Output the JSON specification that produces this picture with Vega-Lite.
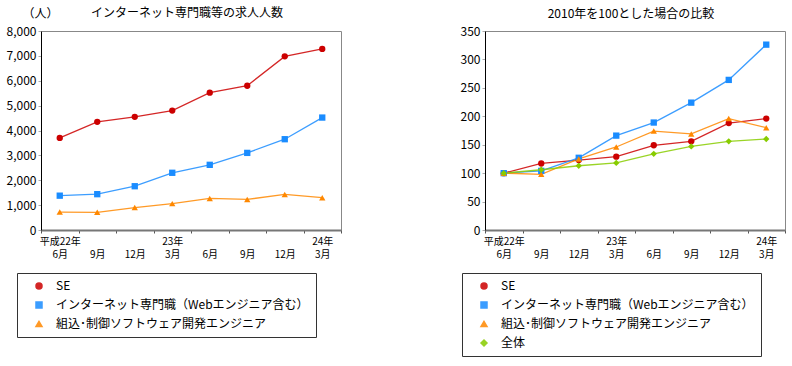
{
  "$schema": "https://vega.github.io/schema/vega-lite/v6.json",
  "padding": {"left": 5, "top": 6, "right": 3, "bottom": 2},
  "config": {
    "font": "Noto Sans CJK JP",
    "view": {"stroke": "#888888", "strokeWidth": 1},
    "axis": {"grid": false, "labelColor": "#000000"},
    "title": {"fontWeight": "normal", "fontSize": 12, "color": "#000000"}
  },
  "datasets": {
    "counts": [
      {"t": "2010-06", "s": "SE", "v": 3700},
      {"t": "2010-09", "s": "SE", "v": 4350},
      {"t": "2010-12", "s": "SE", "v": 4550},
      {"t": "2011-03", "s": "SE", "v": 4800},
      {"t": "2011-06", "s": "SE", "v": 5520},
      {"t": "2011-09", "s": "SE", "v": 5800},
      {"t": "2011-12", "s": "SE", "v": 6980},
      {"t": "2012-03", "s": "SE", "v": 7280},
      {"t": "2010-06", "s": "インターネット専門職（Webエンジニア含む）", "v": 1380},
      {"t": "2010-09", "s": "インターネット専門職（Webエンジニア含む）", "v": 1440},
      {"t": "2010-12", "s": "インターネット専門職（Webエンジニア含む）", "v": 1760},
      {"t": "2011-03", "s": "インターネット専門職（Webエンジニア含む）", "v": 2300},
      {"t": "2011-06", "s": "インターネット専門職（Webエンジニア含む）", "v": 2620},
      {"t": "2011-09", "s": "インターネット専門職（Webエンジニア含む）", "v": 3100},
      {"t": "2011-12", "s": "インターネット専門職（Webエンジニア含む）", "v": 3650},
      {"t": "2012-03", "s": "インターネット専門職（Webエンジニア含む）", "v": 4520},
      {"t": "2010-06", "s": "組込･制御ソフトウェア開発エンジニア", "v": 720},
      {"t": "2010-09", "s": "組込･制御ソフトウェア開発エンジニア", "v": 710},
      {"t": "2010-12", "s": "組込･制御ソフトウェア開発エンジニア", "v": 900},
      {"t": "2011-03", "s": "組込･制御ソフトウェア開発エンジニア", "v": 1060},
      {"t": "2011-06", "s": "組込･制御ソフトウェア開発エンジニア", "v": 1270},
      {"t": "2011-09", "s": "組込･制御ソフトウェア開発エンジニア", "v": 1230},
      {"t": "2011-12", "s": "組込･制御ソフトウェア開発エンジニア", "v": 1430},
      {"t": "2012-03", "s": "組込･制御ソフトウェア開発エンジニア", "v": 1300}
    ],
    "ratio": [
      {"t": "2010-06", "s": "SE", "v": 100},
      {"t": "2010-09", "s": "SE", "v": 117},
      {"t": "2010-12", "s": "SE", "v": 123},
      {"t": "2011-03", "s": "SE", "v": 129},
      {"t": "2011-06", "s": "SE", "v": 149},
      {"t": "2011-09", "s": "SE", "v": 156},
      {"t": "2011-12", "s": "SE", "v": 188},
      {"t": "2012-03", "s": "SE", "v": 196},
      {"t": "2010-06", "s": "インターネット専門職（Webエンジニア含む）", "v": 100},
      {"t": "2010-09", "s": "インターネット専門職（Webエンジニア含む）", "v": 104},
      {"t": "2010-12", "s": "インターネット専門職（Webエンジニア含む）", "v": 127},
      {"t": "2011-03", "s": "インターネット専門職（Webエンジニア含む）", "v": 166},
      {"t": "2011-06", "s": "インターネット専門職（Webエンジニア含む）", "v": 189},
      {"t": "2011-09", "s": "インターネット専門職（Webエンジニア含む）", "v": 224},
      {"t": "2011-12", "s": "インターネット専門職（Webエンジニア含む）", "v": 264},
      {"t": "2012-03", "s": "インターネット専門職（Webエンジニア含む）", "v": 326},
      {"t": "2010-06", "s": "組込･制御ソフトウェア開発エンジニア", "v": 100},
      {"t": "2010-09", "s": "組込･制御ソフトウェア開発エンジニア", "v": 98},
      {"t": "2010-12", "s": "組込･制御ソフトウェア開発エンジニア", "v": 125},
      {"t": "2011-03", "s": "組込･制御ソフトウェア開発エンジニア", "v": 146},
      {"t": "2011-06", "s": "組込･制御ソフトウェア開発エンジニア", "v": 174},
      {"t": "2011-09", "s": "組込･制御ソフトウェア開発エンジニア", "v": 169},
      {"t": "2011-12", "s": "組込･制御ソフトウェア開発エンジニア", "v": 196},
      {"t": "2012-03", "s": "組込･制御ソフトウェア開発エンジニア", "v": 180},
      {"t": "2010-06", "s": "全体", "v": 100},
      {"t": "2010-09", "s": "全体", "v": 106},
      {"t": "2010-12", "s": "全体", "v": 113},
      {"t": "2011-03", "s": "全体", "v": 118},
      {"t": "2011-06", "s": "全体", "v": 134},
      {"t": "2011-09", "s": "全体", "v": 147},
      {"t": "2011-12", "s": "全体", "v": 156},
      {"t": "2012-03", "s": "全体", "v": 160}
    ]
  },
  "spacing": 117,
  "resolve": {"scale": {"color": "independent", "shape": "independent"}, "legend": {"color": "independent"}},
  "hconcat": [
    {
      "width": 300,
      "height": 199,
      "data": {"name": "counts"},
      "title": {"text": "インターネット専門職等の求人人数", "frame": "group", "offset": -13, "dx": -4},
      "encoding": {
        "x": {"field": "t", "type": "ordinal", "scale": {"type": "band", "paddingInner": 0, "paddingOuter": 0},
          "axis": {"title": null, "labelAngle": 0, "tickBand": "extent", "tickSize": 3, "tickColor": "#555555", "domainColor": "#777777", "domainWidth": 2, "labelFontSize": 10, "labelPadding": 3, "labelLineHeight": 13.5, "labelBaseline": "top",
            "labelExpr": "datum.value == '2010-06' ? ['平成22年', '6月'] : datum.value == '2010-09' ? [' ', '9月'] : datum.value == '2010-12' ? [' ', '12月'] : datum.value == '2011-03' ? ['23年', '3月'] : datum.value == '2011-06' ? [' ', '6月'] : datum.value == '2011-09' ? [' ', '9月'] : datum.value == '2011-12' ? [' ', '12月'] : datum.value == '2012-03' ? ['24年', '3月'] : ''"}},
        "y": {"field": "v", "type": "quantitative", "scale": {"domain": [0, 8000]},
          "axis": {"title": "（人）", "titleAngle": 0, "titleX": -1, "titleY": -18, "titleAlign": "center", "titleBaseline": "middle", "titleFontWeight": "normal", "titleFontSize": 12, "values": [0, 1000, 2000, 3000, 4000, 5000, 6000, 7000, 8000], "format": ",.0f", "tickSize": 3, "tickColor": "#aaaaaa", "domainColor": "#000000", "labelPadding": 2, "labelFontSize": 12}}
      },
      "layer": [
        {
          "mark": {"type": "line", "strokeWidth": 1.3, "opacity": 0.85},
          "encoding": {
            "color": {"field": "s", "type": "nominal",
              "scale": {"domain": ["SE", "インターネット専門職（Webエンジニア含む）", "組込･制御ソフトウェア開発エンジニア"], "range": ["#cc0000", "#1a8cff", "#ff8800"]},
              "legend": {"orient": "none", "legendX": -24, "legendY": 242, "title": null, "direction": "vertical", "strokeColor": "#333333", "padding": 7, "rowPadding": 7, "labelFontSize": 12, "labelColor": "#000000", "symbolSize": 36, "symbolOffset": 9, "labelOffset": 11, "labelLimit": 400}}
          }
        },
        {
          "mark": {"type": "point", "filled": true, "size": 40, "opacity": 1},
          "encoding": {
            "shape": {"field": "s", "type": "nominal", "legend": null,
              "scale": {"domain": ["SE", "インターネット専門職（Webエンジニア含む）", "組込･制御ソフトウェア開発エンジニア"], "range": ["circle", "square", "triangle-up"]}},
            "color": {"field": "s", "type": "nominal", "legend": null,
              "scale": {"domain": ["SE", "インターネット専門職（Webエンジニア含む）", "組込･制御ソフトウェア開発エンジニア"], "range": ["#cc0000", "#1a8cff", "#ff8800"]}}
          }
        }
      ]
    },
    {
      "width": 300,
      "height": 199,
      "data": {"name": "ratio"},
      "title": {"text": "2010年を100とした場合の比較", "frame": "group", "offset": 4, "dx": -4},
      "encoding": {
        "x": {"field": "t", "type": "ordinal", "scale": {"type": "band", "paddingInner": 0, "paddingOuter": 0},
          "axis": {"title": null, "labelAngle": 0, "tickBand": "extent", "tickSize": 3, "tickColor": "#555555", "domainColor": "#777777", "domainWidth": 2, "labelFontSize": 10, "labelPadding": 3, "labelLineHeight": 13.5, "labelBaseline": "top",
            "labelExpr": "datum.value == '2010-06' ? ['平成22年', '6月'] : datum.value == '2010-09' ? [' ', '9月'] : datum.value == '2010-12' ? [' ', '12月'] : datum.value == '2011-03' ? ['23年', '3月'] : datum.value == '2011-06' ? [' ', '6月'] : datum.value == '2011-09' ? [' ', '9月'] : datum.value == '2011-12' ? [' ', '12月'] : datum.value == '2012-03' ? ['24年', '3月'] : ''"}},
        "y": {"field": "v", "type": "quantitative", "scale": {"domain": [0, 350]},
          "axis": {"title": null, "values": [0, 50, 100, 150, 200, 250, 300, 350], "tickSize": 3, "tickColor": "#aaaaaa", "domainColor": "#000000", "labelPadding": 2, "labelFontSize": 12}}
      },
      "layer": [
        {
          "mark": {"type": "line", "strokeWidth": 1.3, "opacity": 0.85},
          "encoding": {
            "color": {"field": "s", "type": "nominal",
              "scale": {"domain": ["SE", "インターネット専門職（Webエンジニア含む）", "組込･制御ソフトウェア開発エンジニア", "全体"], "range": ["#cc0000", "#1a8cff", "#ff8800", "#88cc00"]},
              "legend": {"orient": "none", "legendX": -23, "legendY": 242, "title": null, "direction": "vertical", "strokeColor": "#333333", "padding": 7, "rowPadding": 7, "labelFontSize": 12, "labelColor": "#000000", "symbolSize": 36, "symbolOffset": 9, "labelOffset": 11, "labelLimit": 400}}
          }
        },
        {
          "mark": {"type": "point", "filled": true, "size": 40, "opacity": 1},
          "encoding": {
            "shape": {"field": "s", "type": "nominal", "legend": null,
              "scale": {"domain": ["SE", "インターネット専門職（Webエンジニア含む）", "組込･制御ソフトウェア開発エンジニア", "全体"], "range": ["circle", "square", "triangle-up", "diamond"]}},
            "color": {"field": "s", "type": "nominal", "legend": null,
              "scale": {"domain": ["SE", "インターネット専門職（Webエンジニア含む）", "組込･制御ソフトウェア開発エンジニア", "全体"], "range": ["#cc0000", "#1a8cff", "#ff8800", "#88cc00"]}}
          }
        }
      ]
    }
  ]
}
